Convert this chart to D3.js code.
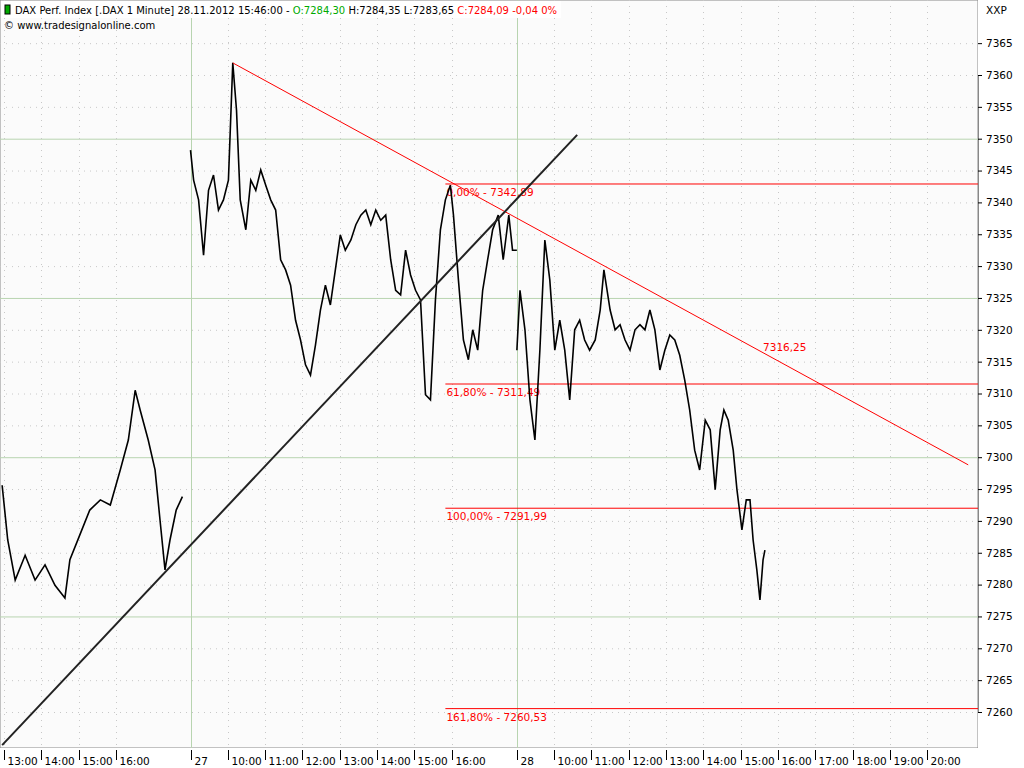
<!DOCTYPE html>
<html><head><meta charset="utf-8">
<script src="https://cdn.jsdelivr.net/npm/d3@7"></script>
<style>body{margin:0;background:#fff}svg{display:block;font-family:"DejaVu Sans",Verdana,sans-serif}</style>
</head><body>
<svg id="c" width="1024" height="768"></svg>
<script>
// price series: [day, "HH:MM", price]
const day26 = [["12:57",7295.6],["13:06",7287.0],["13:18",7280.7],["13:34",7284.6],["13:50",7280.7],["14:06",7283.1],["14:22",7279.9],["14:38",7277.9],["14:46",7283.9],["15:02",7287.8],["15:18",7291.7],["15:35",7293.3],["15:51",7292.5],["16:07",7298.0],["16:20",7302.7],["16:31",7310.5],["16:39",7307.4],["16:52",7302.7],["17:03",7298.0],["17:11",7290.1],["17:19",7282.3],["17:27",7287.0],["17:37",7291.7],["17:47",7293.8]];
const day27 = [["09:00",7348.2],["09:05",7343.5],["09:13",7340.4],["09:21",7331.7],["09:29",7341.9],["09:37",7344.3],["09:45",7338.8],["09:53",7340.4],["10:01",7343.5],["10:08",7361.9],["10:14",7354.5],["10:20",7340.4],["10:29",7335.7],["10:37",7343.5],["10:45",7341.9],["10:53",7345.1],["11:01",7342.7],["11:09",7340.4],["11:17",7338.8],["11:25",7331.0],["11:33",7329.4],["11:41",7327.0],["11:49",7321.5],["11:57",7318.4],["12:05",7314.5],["12:13",7312.9],["12:21",7317.6],["12:29",7323.1],["12:37",7327.0],["12:45",7323.9],["12:53",7329.4],["13:01",7334.9],["13:09",7332.5],["13:18",7334.1],["13:26",7336.5],["13:34",7338.0],["13:42",7338.8],["13:50",7336.5],["13:58",7338.8],["14:06",7337.2],["14:14",7338.0],["14:22",7331.0],["14:30",7326.2],["14:38",7325.5],["14:46",7332.5],["14:54",7328.6],["15:02",7326.2],["15:10",7324.7],["15:18",7309.8],["15:26",7309.0],["15:34",7324.7],["15:42",7335.7],["15:50",7340.4],["15:58",7342.7],["16:03",7338.0],["16:11",7327.8],["16:19",7318.4],["16:27",7315.3],["16:34",7320.0],["16:42",7316.8],["16:50",7326.2],["16:58",7331.0],["17:06",7335.7],["17:15",7338.0],["17:23",7331.0],["17:27",7334.1],["17:32",7338.0],["17:38",7332.5],["17:45",7332.5]];
const day28 = [["09:00",7316.8],["09:05",7326.2],["09:13",7320.0],["09:21",7309.0],["09:29",7302.7],["09:37",7316.8],["09:45",7334.1],["09:53",7327.8],["10:01",7316.8],["10:09",7321.5],["10:17",7316.8],["10:25",7309.0],["10:33",7320.0],["10:41",7321.5],["10:49",7318.4],["10:57",7316.8],["11:06",7318.4],["11:14",7323.1],["11:20",7329.4],["11:30",7323.1],["11:38",7320.0],["11:46",7320.8],["11:54",7318.4],["12:02",7316.8],["12:10",7320.0],["12:18",7320.8],["12:26",7320.0],["12:34",7323.1],["12:42",7320.0],["12:50",7313.7],["12:58",7316.8],["13:06",7319.2],["13:14",7318.4],["13:22",7316.0],["13:30",7312.1],["13:38",7307.4],["13:46",7301.1],["13:54",7298.0],["14:03",7305.8],["14:11",7304.3],["14:19",7294.9],["14:27",7304.3],["14:33",7307.4],["14:40",7305.8],["14:48",7301.1],["14:54",7294.9],["15:02",7288.6],["15:09",7293.3],["15:15",7293.3],["15:20",7287.0],["15:26",7282.3],["15:31",7277.6],["15:36",7283.9],["15:39",7285.4]];
const fibLevels = [["0,00%",7342.89],["61,80%",7311.49],["100,00%",7291.99],["161,80%",7260.53]];
const yTicks = d3.range(7260,7366,5);
const xTicks = [[26,"13:00"],[26,"14:00"],[26,"15:00"],[26,"16:00"],[27,"27"],[27,"10:00"],[27,"11:00"],[27,"12:00"],[27,"13:00"],[27,"14:00"],[27,"15:00"],[27,"16:00"],[28,"28"],[28,"10:00"],[28,"11:00"],[28,"12:00"],[28,"13:00"],[28,"14:00"],[28,"15:00"],[28,"16:00"],[28,"17:00"],[28,"18:00"],[28,"19:00"],[28,"20:00"]];
const downTrend = [[27,"10:08",7361.9],[28,"21:06",7298.8]];
const upTrend = [[26,"12:57",7254.8],[28,"10:37",7350.6]];
const fibStart = [27,"15:50"];
const trendLabel = [28,"15:36",7316.25,"7316,25"];

const dayOffset = {26:-13, 27:-4, 28:4.75};
function hrs(t){ if(t==="27"||t==="28") return 9; const [h,m]=t.split(":").map(Number); return h+m/60; }
function u(day,t){ return dayOffset[day]+hrs(t); }

const svg = d3.select("#c");
const W=978, H=748;
const x = d3.scaleLinear().domain([0,1]).range([4,41.3]);
const y = d3.scaleLinear().domain([7360,7260]).range([75,712]);

svg.append("rect").attr("x",0).attr("y",0).attr("width",W).attr("height",H).attr("fill","#fbfbfb").attr("stroke","#888");
svg.append("rect").attr("x",W).attr("y",0).attr("width",1024-W).attr("height",768).attr("fill","#fff");
svg.append("rect").attr("x",0).attr("y",H).attr("width",W).attr("height",20).attr("fill","#fff");

yTicks.forEach(v=>{
  const solid = v%25===0;
  svg.append("line").attr("x1",0).attr("x2",W).attr("y1",y(v)+.5).attr("y2",y(v)+.5)
    .attr("stroke",solid?"#b8d4b0":"#c8c8c8").attr("stroke-dasharray",solid?null:"1,5");
});
xTicks.forEach(([d,t])=>{
  const solid = t.length===2;
  const px = Math.round(x(u(d,t)))+.5;
  svg.append("line").attr("x1",px).attr("x2",px).attr("y1",0).attr("y2",H)
    .attr("stroke",solid?"#b8d4b0":"#c8c8c8").attr("stroke-dasharray",solid?null:"1,5");
  svg.append("line").attr("x1",px).attr("x2",px).attr("y1",H+2).attr("y2",H+12).attr("stroke","#000");
  svg.append("text").attr("x",px+3).attr("y",765).attr("font-size",10.5).attr("fill","#000").text(t);
});
const yAxis = d3.axisRight(y).tickValues(yTicks).tickSize(4).tickFormat(d3.format("d"));
const ga = svg.append("g").attr("transform",`translate(${W},0)`).call(yAxis);
ga.select(".domain").attr("stroke","#888");
ga.selectAll("text").attr("font-size",10.5).attr("x",8).attr("font-family","DejaVu Sans");
svg.append("text").attr("x",986).attr("y",14).attr("font-size",10.5).text("XXP");

fibLevels.forEach(([lab,v])=>{
  const x0 = x(u(...fibStart));
  svg.append("line").attr("x1",x0).attr("x2",W).attr("y1",y(v)).attr("y2",y(v)).attr("stroke","#f00");
  svg.append("text").attr("x",x0+1).attr("y",y(v)+12).attr("font-size",10.5).attr("fill","#f00")
    .text(lab+" - "+d3.format(".2f")(v).replace(".",","));
});

const line = d3.line().x(d=>x(u(d[0],d[1]))).y(d=>y(d[2]));
[[26,day26],[27,day27],[28,day28]].forEach(([d,arr])=>{
  svg.append("path").datum(arr.map(p=>[d,p[0],p[1]])).attr("d",line)
    .attr("fill","none").attr("stroke","#000").attr("stroke-width",1.6);
});
svg.append("path").datum(downTrend).attr("d",line).attr("stroke","#f00").attr("fill","none");
svg.append("path").datum(upTrend).attr("d",line).attr("stroke","#222").attr("stroke-width",2).attr("fill","none");
svg.append("text").attr("x",x(u(trendLabel[0],trendLabel[1]))).attr("y",y(trendLabel[2])-3)
  .attr("font-size",10.5).attr("fill","#f00").text(trendLabel[3]);

const hd = svg.append("g");
hd.append("rect").attr("x",1).attr("y",1).attr("width",560).attr("height",17).attr("fill","#fff");
hd.append("rect").attr("x",5).attr("y",5).attr("width",5).attr("height",9).attr("fill","#0a0").attr("stroke","#000");
const t1 = hd.append("text").attr("x",15).attr("y",14).attr("font-size",10);
t1.append("tspan").text("DAX Perf. Index [.DAX  1 Minute] 28.11.2012 15:46:00 - ");
t1.append("tspan").attr("fill","#0a0").text("O:7284,30 ");
t1.append("tspan").text("H:7284,35 L:7283,65 ");
t1.append("tspan").attr("fill","#f00").text("C:7284,09 -0,04 0%");
hd.append("text").attr("x",4).attr("y",29).attr("font-size",10).text("© www.tradesignalonline.com");
</script>
</body></html>
